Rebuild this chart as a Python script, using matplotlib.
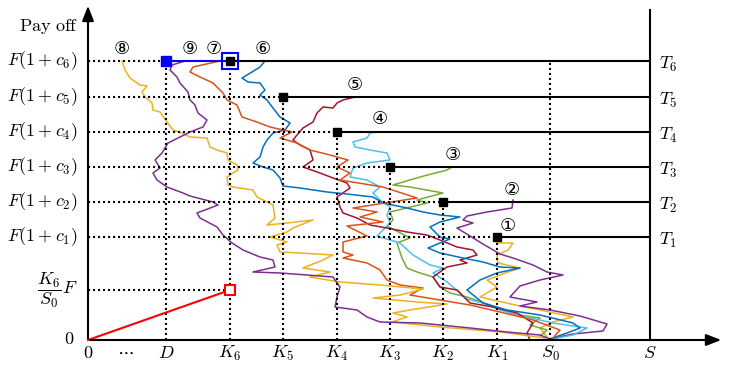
import matplotlib
matplotlib.use("Agg")
import matplotlib.pyplot as plt

plt.rcParams['mathtext.fontset'] = 'cm'

# ---- data (axis units) ----
S_pos = 562
S_top = 330
K_list = [409, 355, 302, 249, 195, 142]          # K1..K6
c_levels = [103, 138, 173, 208, 243, 279]        # F(1+c1)..F(1+c6)
K6F_level = 50
D_pos = 78
S0_pos = 462

y_labels = [r'$F(1+c_1)$', r'$F(1+c_2)$', r'$F(1+c_3)$', r'$F(1+c_4)$', r'$F(1+c_5)$', r'$F(1+c_6)$']
T_labels = [r'$T_1$', r'$T_2$', r'$T_3$', r'$T_4$', r'$T_5$', r'$T_6$']
x_labels = [r'$D$', r'$K_6$', r'$K_5$', r'$K_4$', r'$K_3$', r'$K_2$', r'$K_1$', r'$S_0$']
x_label_pos = [78, 142, 195, 249, 302, 355, 409, 462]

# circled path labels and positions
circ_labels = ['①', '②', '③', '④', '⑤', '⑥', '⑦', '⑧', '⑨']
circ_x = [420, 424, 365, 292, 267, 175, 126, 34, 102]
circ_y = [114, 150, 185, 221, 255, 291, 291, 291, 291]

# paths (x, y)
p1 = [(412,102),(409,97),(425,97),(420,90),(409,85),(410,77),(432,72),(420,68),(399,60),(409,53),
      (392,43),(405,40),(432,34),(452,30),(485,23),(465,18),(452,12),(459,3)]
p2 = [(425,140),(424,132),(399,128),(379,124),(375,120),(385,117),(369,112),(382,104),(395,96),(412,86),
      (425,82),(445,75),(459,68),(475,65),(452,60),(432,54),(422,43),(449,38),(432,34),(462,30),
      (492,24),(519,16),(515,9),(485,6),(462,1)]
p3 = [(364,173),(359,170),(332,163),(305,155),(322,153),(355,147),(329,140),(339,137),(302,128),(305,120),
      (299,114),(322,102),(309,97),(314,82),(319,72),(329,68),(345,63),(352,53),(362,47),(379,43),
      (402,35),(425,26),(452,22),(442,15),(459,10),(452,4)]
p4 = [(290,208),(282,207),(279,202),(265,198),(267,193),(282,190),(299,187),(302,180),(279,177),(265,172),
      (262,163),(279,160),(292,153),(285,147),(292,140),(302,133),(299,125),(302,117),(289,104),(312,97),
      (325,85),(342,75),(355,72),(345,67),(359,58),(379,41),(395,37),(412,30),(439,23),(465,17),
      (499,12),(485,5),(459,0)]
p5 = [(267,243),(255,240),(249,237),(245,232),(235,233),(229,227),(225,218),(215,212),(209,205),(205,200),
      (212,195),(222,190),(225,180),(215,173),(232,167),(245,162),(259,157),(262,152),(249,143),(252,133),
      (255,127),(269,122),(282,115),(299,112),(319,108),(339,105),(352,100),(369,93),(385,90),(389,85),
      (372,80),(379,77),(359,73),(345,63),(352,53),(369,50),(382,37),(405,33),(429,27),(445,17),
      (439,7),(442,0)]
p6 = [(177,279),(172,273),(164,268),(154,262),(160,258),(172,257),(177,250),(172,245),(179,240),(185,232),
      (192,223),(202,217),(197,210),(185,207),(179,200),(175,193),(172,183),(165,177),(175,173),(185,170),
      (192,162),(195,154),(212,152),(239,148),(259,146),(285,143),(295,137),(319,132),(335,128),(352,125),
      (372,123),(352,118),(342,113),(352,103),(362,101),(352,97),(340,92),(352,87),(375,82),(395,78),
      (412,73),(432,72),(409,67),(392,60),(379,50),(395,37),(419,30),(452,25),(485,17),(492,12),
      (479,7),(459,0)]
p7 = [(132,279),(105,273),(102,268),(112,263),(125,257),(135,247),(139,240),(149,235),(154,223),(169,218),
      (182,213),(204,208),(192,202),(209,197),(222,190),(242,185),(260,180),(249,173),(262,167),(252,160),
      (295,153),(329,142),(265,132),(289,128),(272,123),(295,118),(259,114),(279,104),(255,98),(255,88),
      (265,85),(255,82),(279,77),(292,70),(299,60),(312,55),(335,52),(322,45),(352,40),(382,35),
      (412,28),(445,20),(472,10),(465,2)]
p8 = [(34,279),(37,270),(42,262),(52,255),(59,254),(54,248),(57,243),(64,237),(65,230),(72,228),
      (79,218),(85,210),(94,207),(102,203),(119,202),(122,193),(129,190),(139,187),(140,180),(149,175),
      (150,170),(145,167),(139,163),(140,155),(145,153),(165,150),(169,143),(185,135),(187,122),(179,115),
      (199,117),(225,120),(205,112),(199,108),(182,103),(199,98),(189,95),(192,88),(212,87),(245,85),
      (235,80),(215,72),(242,68),(222,63),(252,58),(292,55),(335,51),(312,45),(285,42),(329,38),
      (359,36),(322,30),(305,27),(319,23),(304,18),(352,13),(412,8),(442,4),(457,2)]
p9 = [(97,279),(84,275),(82,270),(89,263),(92,257),(100,248),(102,240),(107,235),(110,227),(119,220),
      (115,213),(102,208),(92,203),(80,197),(74,187),(67,180),(72,172),(65,167),(69,160),(79,153),
      (95,147),(102,144),(125,138),(130,135),(109,127),(112,122),(129,113),(135,105),(144,97),(155,90),
      (172,83),(185,80),(187,73),(165,68),(192,67),(219,65),(245,63),(252,53),(249,43),(247,33),
      (269,30),(279,23),(292,18),(332,17),(382,12),(419,8),(452,5),(462,1)]

paths = [p1, p2, p3, p4, p5, p6, p7, p8, p9]
path_colors = ['#EDB120', '#7E2F8E', '#77AC30', '#4DBEEE', '#A2142F', '#0072BD', '#D95319', '#EDB120', '#7E2F8E']

# ---- figure ----
fig = plt.figure(figsize=(7.34, 3.69), dpi=100)
ax = fig.add_axes([0, 0, 1, 1])
ax.set_xlim(-88, 646)
ax.set_ylim(-29, 340)
ax.axis('off')

dot = (0, (1.0, 1.4))
LW = 1.5

# paths
for p, c in zip(paths, path_colors):
    xs = [a for a, b in p]
    ys = [b for a, b in p]
    ax.plot(xs, ys, color=c, lw=1.1, zorder=2)

# dotted horizontal guides
ax.plot([0, D_pos], [c_levels[5], c_levels[5]], color='k', lw=LW, ls=dot, zorder=3)
for k, c in zip(K_list[:5], c_levels[:5]):
    ax.plot([0, k], [c, c], color='k', lw=LW, ls=dot, zorder=3)
ax.plot([0, K_list[5]], [K6F_level, K6F_level], color='k', lw=LW, ls=dot, zorder=3)

# dotted vertical guides
ax.plot([D_pos, D_pos], [0, c_levels[5]], color='k', lw=LW, ls=dot, zorder=3)
for k, c in zip(K_list, c_levels):
    ax.plot([k, k], [0, c], color='k', lw=LW, ls=dot, zorder=3)
ax.plot([S0_pos, S0_pos], [0, c_levels[5]], color='k', lw=LW, ls=dot, zorder=3)

# solid horizontal lines to S
for k, c in zip(K_list, c_levels):
    ax.plot([k, S_pos], [c, c], color='k', lw=LW, zorder=4)
ax.plot([S_pos, S_pos], [0, S_top], color='k', lw=LW, zorder=4)

# blue segment D -> K6
ax.plot([D_pos, K_list[5]], [c_levels[5], c_levels[5]], color='#0000FF', lw=LW, zorder=4)

# red line 0 -> (K6, K6F)
ax.plot([0, K_list[5]], [0, K6F_level], color='#FF0000', lw=LW, zorder=4)

# markers
ax.plot(K_list, c_levels, ls='none', marker='s', ms=6, color='k', zorder=6)
ax.plot([K_list[5]], [c_levels[5]], ls='none', marker='s', ms=11.5, mfc='none', mec='#0000FF', mew=1.5, zorder=6)
ax.plot([D_pos], [c_levels[5]], ls='none', marker='s', ms=7, color='#0000FF', zorder=6)
ax.plot([K_list[5]], [K6F_level], ls='none', marker='s', ms=7, mfc='white', mec='#FF0000', mew=1.5, zorder=6)

# axes arrows
ax.annotate('', xy=(636, 0), xytext=(-1, 0),
            arrowprops=dict(arrowstyle='-|>,head_length=0.9,head_width=0.35', color='k', lw=1.5), zorder=7)
ax.annotate('', xy=(0, 337), xytext=(0, -1),
            arrowprops=dict(arrowstyle='-|>,head_length=0.9,head_width=0.35', color='k', lw=1.5), zorder=7)

FS = 13
# y labels
for lab, c in zip(y_labels, c_levels):
    ax.text(-10, c, lab, ha='right', va='center', fontsize=FS)
ax.text(-10, K6F_level, r'$\dfrac{K_6}{S_0}F$', ha='right', va='center', fontsize=FS)
ax.text(-14, 1, r'$0$', ha='right', va='center', fontsize=FS)
ax.text(-10, 313, r'$\mathrm{Pay\ off}$', ha='right', va='center', fontsize=FS)

# x labels
ax.text(0, -13, r'$0$', ha='center', va='center', fontsize=FS)
ax.text(37, -12, r'$\cdots$', ha='center', va='center', fontsize=FS)
for lab, xp in zip(x_labels, x_label_pos):
    ax.text(xp, -13, lab, ha='center', va='center', fontsize=FS)
ax.text(S_pos, -13, r'$S$', ha='center', va='center', fontsize=FS)

# T labels
for lab, c in zip(T_labels, c_levels):
    ax.text(S_pos + 9, c - 3, lab, ha='left', va='center', fontsize=FS)

# circled labels
for lab, xp, yp in zip(circ_labels, circ_x, circ_y):
    ax.text(xp, yp, lab, ha='center', va='center', fontsize=13,
            family=['DejaVu Serif', 'DejaVu Sans', 'Noto Sans CJK JP'])

fig.savefig('out.png', dpi=100)
